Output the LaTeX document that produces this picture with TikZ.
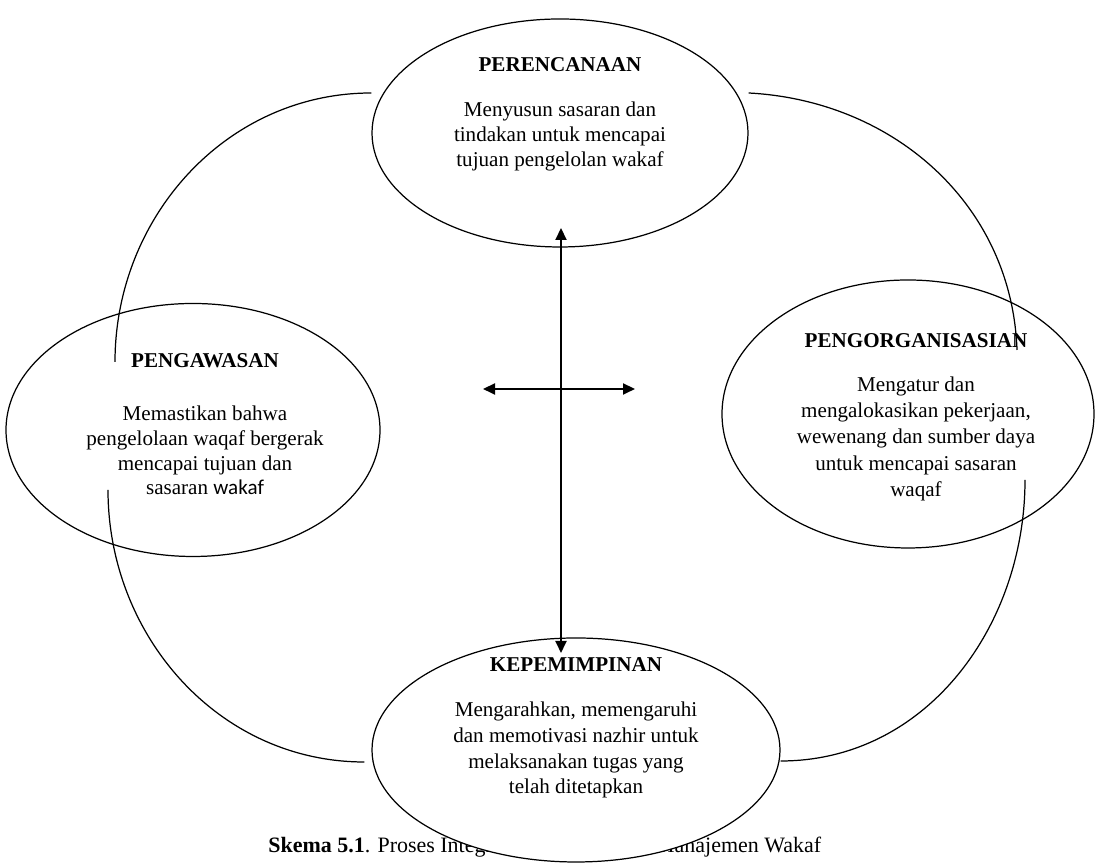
\documentclass[tikz,border=0pt]{standalone}
\usepackage{fontspec}
\setmainfont{Liberation Serif}
\newfontfamily\calibri{Carlito}
\usetikzlibrary{shapes.geometric,arrows.meta}

\begin{document}
\begin{tikzpicture}[
    blob/.style={draw, ellipse, line width=0.7pt, fill=white, inner sep=0pt},
    txt/.style={align=center, anchor=north, inner sep=0pt, font=\fontsize{12}{14}\selectfont},
    ring/.style={line width=0.7pt},
    both/.style={line width=1.1pt, {Triangle[length=2.4mm,width=2.2mm]}-{Triangle[length=2.4mm,width=2.2mm]}}
]
\useasboundingbox (0,0) rectangle (21.9,17.3);

% caption first, the bottom ellipse covers part of it
\node [anchor=base west, inner sep=0pt, font=\fontsize{12.5}{14}\selectfont] (cap) at (5.36,0.24)
    {\textbf{Skema 5.1}. Proses Integrasi Fungsi-Fungsi Manajemen Wakaf};

\node [blob, minimum width=7.52cm, minimum height=4.56cm] (plan) at (11.2,14.64) {};
\node [blob, minimum width=7.48cm, minimum height=5.06cm] (ctrl) at (3.86,8.7) {};
\node [blob, minimum width=7.44cm, minimum height=5.36cm] (orga) at (18.16,9.02) {};
\node [blob, minimum width=8.16cm, minimum height=4.48cm] (lead) at (11.52,2.3) {};

\node [txt] (planT) at ([yshift=1.52cm]plan.center)
    {\textbf{PERENCANAAN}\\[12pt] Menyusun sasaran dan\\ tindakan untuk mencapai\\ tujuan pengelolan wakaf};
\node [txt] (ctrlT) at ([xshift=0.24cm,yshift=1.54cm]ctrl.center)
    {\textbf{PENGAWASAN}\\[16.5pt] Memastikan bahwa\\ pengelolaan waqaf bergerak\\ mencapai tujuan dan\\ sasaran {\calibri wakaf}};
\node [txt, font=\fontsize{12}{15}\selectfont] (orgaT) at ([xshift=0.16cm,yshift=1.62cm]orga.center)
    {\textbf{PENGORGANISASIAN}\\[10pt] Mengatur dan\\ mengalokasikan pekerjaan,\\ wewenang dan sumber daya\\ untuk mencapai sasaran\\ waqaf};
\node [txt, font=\fontsize{12}{14.7}\selectfont] (leadT) at ([yshift=1.86cm]lead.center)
    {\textbf{KEPEMIMPINAN}\\[11pt] Mengarahkan, memengaruhi\\ dan memotivasi nazhir untuk\\ melaksanakan tugas yang\\ telah ditetapkan};

% ends of the cycle arcs
\coordinate (p1) at ([yshift=0.8cm]plan.east);
\coordinate (p2) at ([xshift=2.18cm,yshift=1.28cm]orga.center);
\coordinate (p3) at ([xshift=2.34cm,yshift=-1.32cm]orga.center);
\coordinate (p4) at ([yshift=-0.22cm]lead.east);
\coordinate (p5) at ([xshift=-0.14cm,yshift=-0.24cm]lead.west);
\coordinate (p6) at ([xshift=-1.7cm,yshift=-1.2cm]ctrl.center);
\coordinate (p7) at ([xshift=-1.56cm,yshift=1.36cm]ctrl.center);
\coordinate (p8) at ([yshift=0.8cm]plan.west);

\draw [ring] (p1) to[out=-3,in=92] (p2);
\draw [ring] (p3) to[out=-90,in=0] (p4);
\draw [ring] (p5) to[out=180,in=-90] (p6);
\draw [ring] (p7) to[out=90,in=180] (p8);

% the cross in the middle
\coordinate (up) at (11.22,12.74);
\coordinate (down) at (11.22,4.24);
\coordinate (left) at (9.66,9.52);
\coordinate (right) at (12.7,9.52);
\draw [both] (down) -- (up);
\draw [both] (left) -- (right);
\end{tikzpicture}
\end{document}
